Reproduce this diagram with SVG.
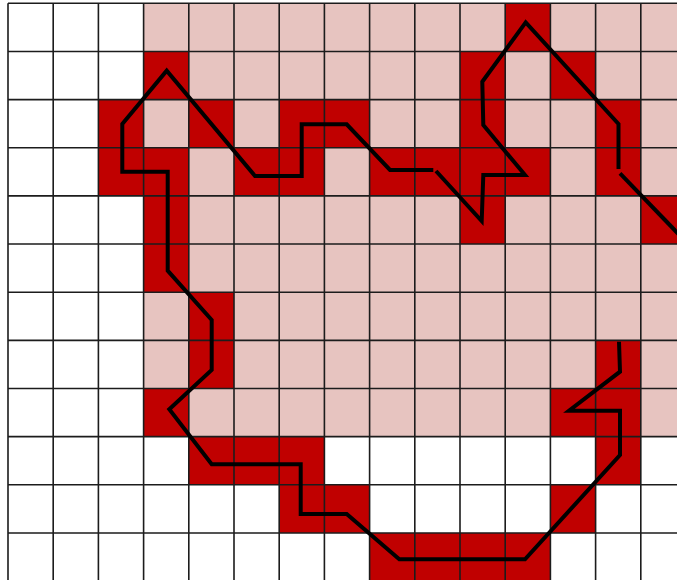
<svg xmlns="http://www.w3.org/2000/svg" width="677" height="580" viewBox="0 0 677 580">
<style>
.p{fill:#e7c4c0}
.r{fill:#c00000}
.g{stroke:#1c1c1c;stroke-width:1.6;fill:none}
.path{stroke:#000;stroke-width:4;fill:none;stroke-linejoin:miter;stroke-linecap:butt}
</style>
<rect x="0" y="0" width="677" height="580" fill="#fff"/>
<g id="cells">
<rect class="p" x="143.6" y="3.3" width="542.4" height="433.35"/>
<g id="red">
<rect class="r" x="505.2" y="3.3" width="45.2" height="48.15"/>
<rect class="r" x="143.6" y="51.45" width="45.2" height="48.15"/>
<rect class="r" x="460" y="51.45" width="45.2" height="48.15"/>
<rect class="r" x="550.4" y="51.45" width="45.2" height="48.15"/>
<rect class="r" x="98.4" y="99.6" width="45.2" height="96.3"/>
<rect class="r" x="188.8" y="99.6" width="45.2" height="48.15"/>
<rect class="r" x="279.2" y="99.6" width="90.4" height="48.15"/>
<rect class="r" x="460" y="99.6" width="45.2" height="48.15"/>
<rect class="r" x="595.6" y="99.6" width="45.2" height="96.3"/>
<rect class="r" x="143.6" y="147.75" width="45.2" height="144.45"/>
<rect class="r" x="234" y="147.75" width="90.4" height="48.15"/>
<rect class="r" x="369.6" y="147.75" width="180.8" height="48.15"/>
<rect class="r" x="460" y="195.9" width="45.2" height="48.15"/>
<rect class="r" x="640.8" y="195.9" width="45.2" height="48.15"/>
<rect class="r" x="188.8" y="292.2" width="45.2" height="96.3"/>
<rect class="r" x="595.6" y="340.35" width="45.2" height="144.45"/>
<rect class="r" x="143.6" y="388.5" width="45.2" height="48.15"/>
<rect class="r" x="550.4" y="388.5" width="45.2" height="48.15"/>
<rect class="r" x="188.8" y="436.65" width="135.6" height="48.15"/>
<rect class="r" x="279.2" y="484.8" width="90.4" height="48.15"/>
<rect class="r" x="550.4" y="484.8" width="45.2" height="48.15"/>
<rect class="r" x="369.6" y="532.95" width="180.8" height="48.15"/>
</g>
</g>
<g id="grid" class="g">
<path d="M8 3.3V581M53.2 3.3V581M98.4 3.3V581M143.6 3.3V581M188.8 3.3V581M234 3.3V581M279.2 3.3V581M324.4 3.3V581M369.6 3.3V581M414.8 3.3V581M460 3.3V581M505.2 3.3V581M550.4 3.3V581M595.6 3.3V581M640.8 3.3V581"/>
<path d="M8 3.3H686M8 51.45H686M8 99.6H686M8 147.75H686M8 195.9H686M8 244.05H686M8 292.2H686M8 340.35H686M8 388.5H686M8 436.65H686M8 484.8H686M8 532.95H686"/>
</g>
<g id="connectors">
<polyline class="path" points="619,341.7 620,371.7 569,410.7 620,410.7 620,455 525,559.3 399.3,559.3 346.7,514 300.7,514 300.7,464.3 211.7,464.3 169.3,409.3 211.7,370 211.7,320 167.7,270.7 167.7,171.7 122.3,171.7 122.3,124 166.7,70.7 255,176 301.7,176 301.7,124.3 346.7,124.3 390,170 433.3,170"/>
<polyline class="path" points="436,171 481.7,221 483.3,175 525,175 483.3,125 482.3,81.7 525.7,22.3 618.5,124 618.5,169"/>
<polyline class="path" points="620,173.3 690,246"/>
</g>
</svg>
